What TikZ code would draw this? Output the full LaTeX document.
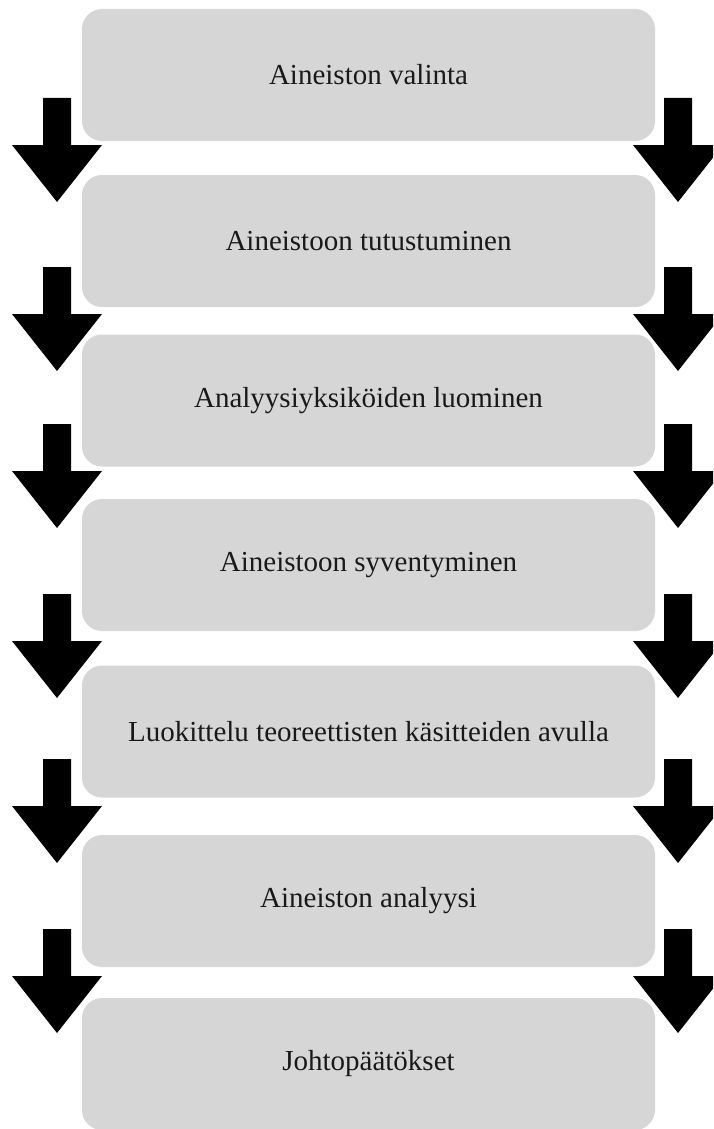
\documentclass[tikz,border=0pt]{standalone}
\usepackage{fontspec}
\setmainfont{Liberation Serif}
\definecolor{boxgray}{RGB}{214,214,214}
\definecolor{txt}{RGB}{25,25,25}
\begin{document}
\begin{tikzpicture}[x=1pt,y=-1pt,
  stepbox/.style={fill=boxgray, draw=none, rounded corners=20pt,
    minimum width=573pt, minimum height=132pt, inner sep=0pt,
    font=\fontsize{29}{33}\selectfont, text=txt},
  blockarrow/.style={fill=black}]
\useasboundingbox (0,0) rectangle (713,1129);
\clip (0,0) rectangle (713,1129);
\node[stepbox] (b1) at (368.5,75) {Aineiston valinta};
\node[stepbox] (b2) at (368.5,241) {Aineistoon tutustuminen};
\node[stepbox] (b3) at (368.5,400.5) {Analyysiyksiköiden luominen};
\node[stepbox] (b4) at (368.5,565) {Aineistoon syventyminen};
\node[stepbox] (b5) at (368.5,731.5) {Luokittelu teoreettisten käsitteiden avulla};
\node[stepbox] (b6) at (368.5,901) {Aineiston analyysi};
\node[stepbox] (b7) at (368.5,1064) {Johtopäätökset};
\foreach \t in {98,267,424,594,759,929}{
  \fill[blockarrow] (43,\t) -- (71,\t) -- (71,\t+47) -- (102,\t+47) -- (57,\t+104)
    -- (12,\t+47) -- (43,\t+47) -- cycle;
  \fill[blockarrow] (664,\t) -- (692,\t) -- (692,\t+47) -- (723,\t+47) -- (678,\t+104)
    -- (633,\t+47) -- (664,\t+47) -- cycle;
}
\end{tikzpicture}
\end{document}
